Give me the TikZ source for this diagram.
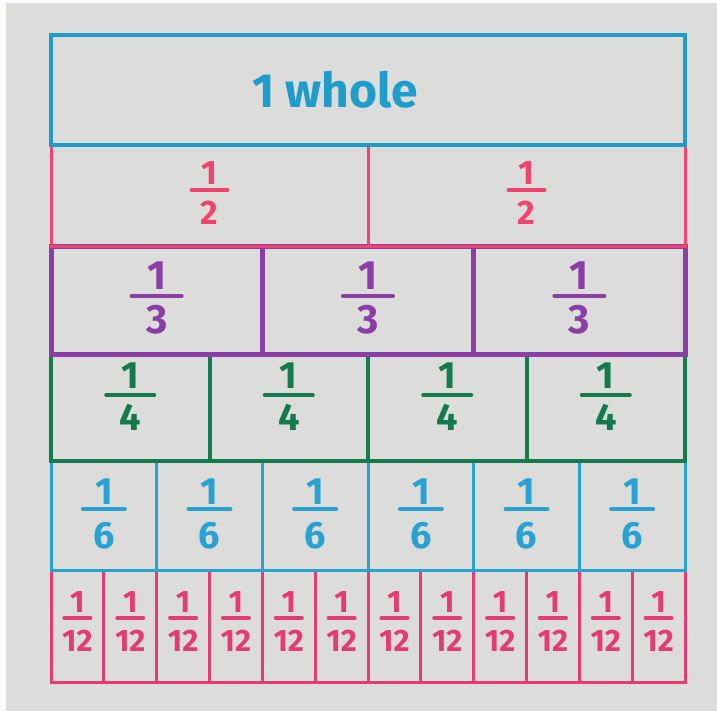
\documentclass[tikz,border=0pt]{standalone}
\usepackage{fontspec}
\setmainfont{Fira Sans}
\usetikzlibrary{positioning}
\definecolor{paper}{HTML}{DCDDDB}
\definecolor{wholeblue}{HTML}{1E9CCB}
\definecolor{halfpink}{HTML}{F2436E}
\definecolor{thirdpurple}{HTML}{8B3FA6}
\definecolor{quartergreen}{HTML}{127A4C}
\definecolor{sixthblue}{HTML}{27A2D2}
\definecolor{twelfthpink}{HTML}{E53A74}

\tikzset{
  cell/.style={rectangle, inner sep=0pt, outer sep=0pt},
  digit/.style={inner sep=0pt, anchor=base, font=\bfseries},
  fracbar/.style={line cap=round, line width=4pt}
}

\begin{document}
\begin{tikzpicture}[x=1pt, y=-1pt]
  % papel
  \fill[paper] (0,0) rectangle (717,711);
  \fill[white!92!paper] (0,0) rectangle (6,711);
  \fill[white!92!paper] (0,0) rectangle (717,3);

  % filas de la pared de fracciones (de abajo hacia arriba)
  \foreach \r/\top/\bot/\col/\lw/\fs/\off/\bw/\dn/\dd in {
      12/570/682/twelfthpink/3/31/48/13/6/33,
      6/461/570/sixthblue/3/38/48/21/5/39,
      4/354/461/quartergreen/4/38/41/24/7/35,
      3/247/354/thirdpurple/5/41/49/25/6/37,
      2/145/247/halfpink/3/34/45/18/5/35} {
    \pgfmathsetmacro\w{634/\r}
    \pgfmathsetmacro\h{\bot-\top}
    \pgfmathsetmacro\cy{(\top+\bot)/2}
    \pgfmathsetmacro\by{\top+\off}
    \foreach \i in {1,...,\r} {
      \pgfmathsetmacro\cx{51+(\i-0.5)*\w}
      \node[cell, draw=\col, line width=\lw pt, minimum width=\w pt, minimum height=\h pt] (c\r-\i) at (\cx,\cy) {};
      \node[digit, text=\col, font=\fontsize{\fs}{\fs}\selectfont\bfseries] (n\r-\i) at (\cx,\by-\dn) {1};
      \node[digit, text=\col, font=\fontsize{\fs}{\fs}\selectfont\bfseries] (d\r-\i) at (\cx,\by+\dd) {\r};
      \draw[fracbar, draw=\col] (\cx-\bw,\by) -- (\cx+\bw,\by);
    }
  }

  % fila del entero
  \node[cell, draw=wholeblue, line width=3.5pt, minimum width=634pt, minimum height=110pt] (whole) at (368,90) {};
  \node[text=wholeblue, inner sep=0pt, font=\fontsize{48}{48}\selectfont\bfseries] (wholetxt) at (335,90) {1 whole};
\end{tikzpicture}
\end{document}
